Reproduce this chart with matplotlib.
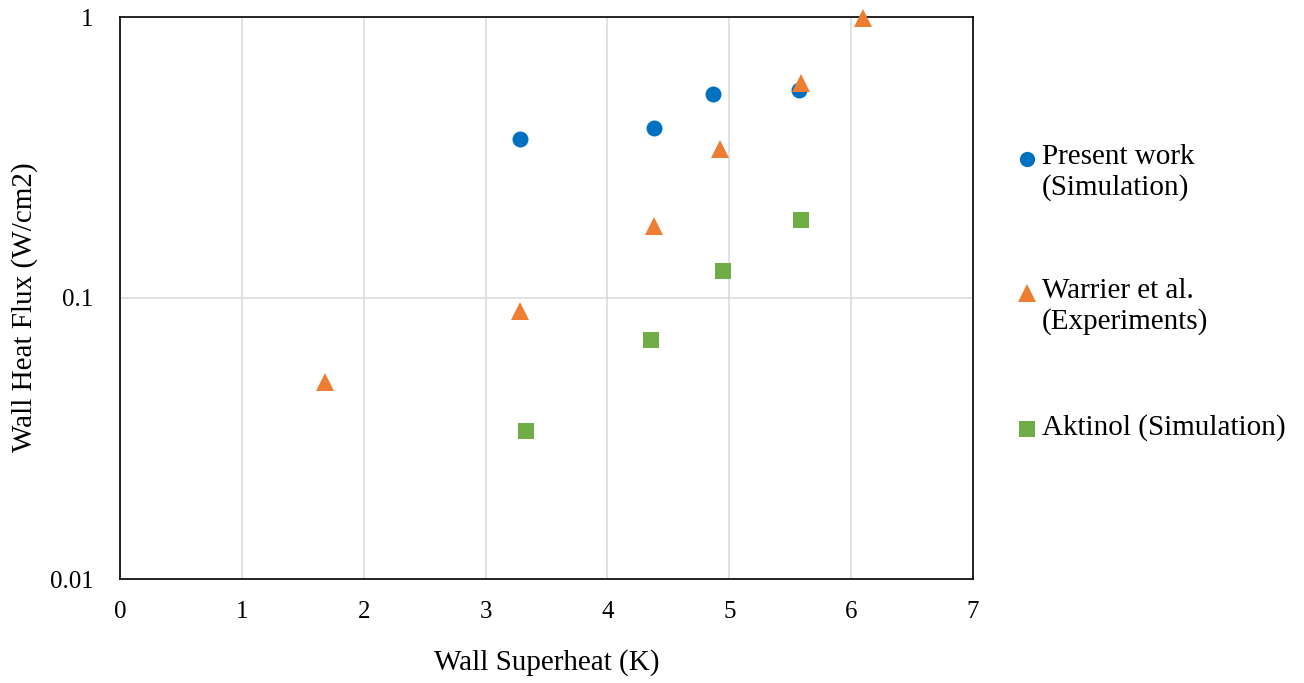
import matplotlib
matplotlib.use("Agg")
import matplotlib.pyplot as plt
from matplotlib.lines import Line2D

# data
present_x = [3.28, 4.38, 4.87, 5.57]
present_y = [0.369, 0.403, 0.532, 0.551]

warrier_x = [1.68, 3.28, 4.38, 4.92, 5.59, 6.10]
warrier_y = [0.0502, 0.0901, 0.180, 0.340, 0.582, 0.99]

aktinol_x = [3.33, 4.36, 4.95, 5.59]
aktinol_y = [0.0335, 0.0711, 0.125, 0.190]

x_ticks = [0, 1, 2, 3, 4, 5, 6, 7]
y_ticks = [0.01, 0.1, 1]
y_tick_labels = ["0.01", "0.1", "1"]

labels = ["Present work\n(Simulation)", "Warrier et al.\n(Experiments)", "Aktinol (Simulation)"]
colors = ["#0070C0", "#ED7D31", "#70AD47"]
markers = ["o", "^", "s"]
sizes = [11.5, 13, 11.5]

plt.rcParams["font.family"] = ["Liberation Serif", "DejaVu Serif"]

W, H = 1304, 683
fig = plt.figure(figsize=(W / 100, H / 100), dpi=100)
ax = fig.add_axes([120 / W, 1 - 579 / H, (973 - 120) / W, (579 - 17) / H])

series = [(present_x, present_y), (warrier_x, warrier_y), (aktinol_x, aktinol_y)]
for (xs, ys), c, m, s in zip(series, colors, markers, sizes):
    ax.plot(xs, ys, linestyle="none", marker=m, markersize=s, color=c,
            markeredgewidth=0, clip_on=False, zorder=3)

ax.set_yscale("log")
ax.set_xlim(0, 7)
ax.set_ylim(0.01, 1)
ax.set_xticks(x_ticks)
ax.set_yticks(y_ticks)
ax.set_yticklabels(y_tick_labels)
ax.minorticks_off()
ax.tick_params(length=0, labelsize=18)
ax.tick_params(axis="x", pad=16)
ax.tick_params(axis="y", pad=19)
ax.grid(True, color="#D9D9D9", linewidth=1.1)
ax.set_axisbelow(True)
for sp in ax.spines.values():
    sp.set_color("black")
    sp.set_linewidth(1.2)

ax.set_xlabel("Wall Superheat (K)", fontsize=21)
ax.set_ylabel("Wall Heat Flux (W/cm2)", fontsize=21)
ax.xaxis.set_label_coords(0.5, -0.125)
ax.yaxis.set_label_coords(-0.096, 0.484)

# legend on the right, marker level with the first text line
key_y = [159, 293, 429]
for lab, c, m, s, ky in zip(labels, colors, markers, sizes, key_y):
    fig.add_artist(Line2D([1027 / W], [1 - ky / H], transform=fig.transFigure,
                          linestyle="none", marker=m, markersize=s - 0.5,
                          color=c, markeredgewidth=0))
    fig.text(1042 / W, 1 - (ky - 15) / H, lab, fontsize=21, ha="left", va="top",
             linespacing=1.2)

fig.savefig("out.png", dpi=100)
